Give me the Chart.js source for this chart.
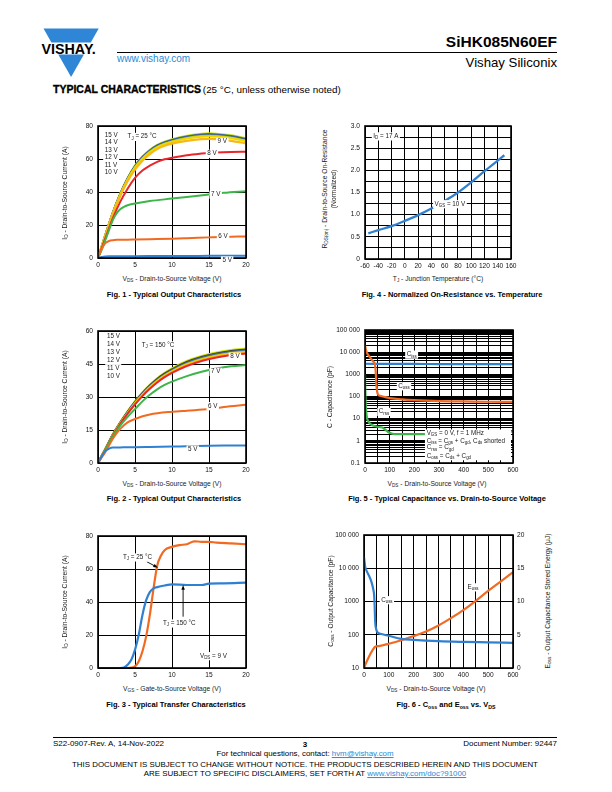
<!DOCTYPE html>
<html>
<head>
<meta charset="utf-8">
<script src="https://cdn.jsdelivr.net/npm/chart.js@4.4.1/dist/chart.umd.min.js"></script>
<style>
  html, body { margin: 0; padding: 0; background: #fff; }
  #page { position: relative; width: 612px; height: 792px; overflow: hidden;
    font-family: "Liberation Sans", Arial, Helvetica, sans-serif; color: #000; }
  .t { position: absolute; white-space: nowrap; line-height: 1; }
  .s { font-size: 70%; position: relative; top: 0.3em; }
  .a { color: #2a8ad6; text-decoration: underline; }
  canvas { position: absolute; }
  .rule { position: absolute; height: 1px; background: #000; }
</style>
</head>
<body>
<div id="page">
  <svg width="612" height="100" style="position:absolute;left:0;top:0">
    <polygon points="43.5,28.6 98.7,28.6 90.8,42.4 51.4,42.4" fill="#2f86d6"/>
    <polygon points="58.3,54.6 83.9,54.6 71.1,77" fill="#2f86d6"/>
    <text x="41.5" y="53.8" font-family="Liberation Sans, Arial, sans-serif" font-weight="bold" font-size="14.3" fill="#000">VISHAY.</text>
  </svg>
  <div class="rule" style="left:117px;top:52px;width:440px"></div>
  <div class="rule" style="left:53px;top:737px;width:504px"></div>
</div>
<script>
// ---- Fig. 1: output characteristics, TJ = 25 °C
const F1_VDS = [0, 1, 2, 3, 4, 5, 6, 7, 8, 9, 10, 12, 14, 15, 16, 18, 20];
const F1_15V = [0, 14, 27.5, 39, 48.5, 56, 61.5, 65.5, 68.5, 70.5, 72, 74, 75.3, 75.5, 75.3, 74.3, 72.5];
const F1_14V = [0, 14, 27.4, 38.8, 48.2, 55.7, 61.2, 65.2, 68.2, 70.2, 71.6, 73.6, 74.9, 75.1, 74.9, 73.9, 72.1];
const F1_13V = [0, 13.9, 27.3, 38.6, 48, 55.4, 60.9, 64.9, 67.9, 69.9, 71.3, 73.3, 74.5, 74.7, 74.5, 73.5, 71.7];
const F1_12V = [0, 13.9, 27.2, 38.5, 47.8, 55.2, 60.6, 64.6, 67.6, 69.6, 71, 73, 74.2, 74.4, 74.2, 73.2, 71.4];
const F1_11V = [0, 13.8, 27.1, 38.3, 47.6, 54.9, 60.3, 64.3, 67.3, 69.3, 70.7, 72.7, 73.9, 74.1, 73.9, 72.9, 71.1];
const F1_10V = [0, 13.8, 27, 38.2, 47.4, 54.7, 60, 64, 67, 69, 70.4, 72.4, 73.6, 73.8, 73.6, 72.6, 70.8];
const F1_9V = [0, 13.5, 26.5, 37.5, 46.5, 53.5, 59, 63, 66, 68, 69.3, 71, 72, 72.2, 72, 71, 69.5];
const F1_8V = [0, 12, 24, 34, 42, 48.5, 53, 56, 58.3, 59.8, 60.8, 62.3, 63.3, 63.7, 64, 64.3, 64.4];
const F1_VDS_LO = [0, 0.5, 1, 1.5, 2, 2.5, 3, 3.5, 4, 5, 7, 10, 12, 15, 17, 20];
const F1_7V = [0, 5, 11, 17, 23, 27, 29.5, 31, 32, 33, 34.5, 36, 37, 38.5, 39.5, 40.5];
const F1_6V = [0, 5.5, 9, 10.3, 10.8, 11, 11, 11.1, 11.1, 11.2, 11.4, 11.7, 12, 12.5, 12.8, 13.1];
const F1_5V = [0, 0.6, 0.9, 1, 1, 1, 1, 1.05, 1.05, 1.1, 1.15, 1.2, 1.25, 1.3, 1.35, 1.4];

// ---- Fig. 2: output characteristics, TJ = 150 °C
const F2_VDS = [0, 1, 2, 3, 4, 5, 6, 7, 8, 9, 10, 12, 14, 16, 18, 20];
const F2_15V = [0, 6.5, 13, 18.5, 23.5, 28, 32, 35.5, 38.5, 41, 43, 46.3, 48.6, 50.2, 51.3, 52];
const F2_14V = [0, 6.4, 12.9, 18.4, 23.3, 27.8, 31.7, 35.2, 38.2, 40.6, 42.6, 45.9, 48.2, 49.8, 50.9, 51.6];
const F2_13V = [0, 6.4, 12.8, 18.2, 23.1, 27.6, 31.5, 35, 37.9, 40.3, 42.3, 45.6, 47.9, 49.5, 50.6, 51.3];
const F2_12V = [0, 6.3, 12.7, 18.1, 23, 27.4, 31.3, 34.7, 37.6, 40, 42, 45.3, 47.6, 49.2, 50.3, 51];
const F2_11V = [0, 6.3, 12.6, 18, 22.8, 27.2, 31.1, 34.5, 37.4, 39.8, 41.8, 45, 47.3, 48.9, 50, 50.7];
const F2_10V = [0, 6.3, 12.5, 17.9, 22.7, 27.1, 30.9, 34.3, 37.2, 39.6, 41.6, 44.8, 47.1, 48.7, 49.8, 50.4];
const F2_9V = [0, 6.2, 12.5, 17.8, 22.5, 26.8, 30.6, 34, 36.9, 39.3, 41.3, 44.5, 46.8, 48.4, 49.5, 50.2];
const F2_8V = [0, 6.2, 12.4, 17.7, 22.4, 26.6, 30.4, 33.7, 36.6, 39, 41, 44.1, 46.4, 48, 49.1, 49.8];
const F2_7V = [0, 6, 12, 17, 21, 24.5, 28, 31, 33.5, 35.5, 37, 39.5, 41.5, 43, 44, 44.5];
const F2_VDS_LO = [0, 0.5, 1, 1.5, 2, 3, 4, 5, 7, 10, 12, 15, 17, 20];
const F2_6V = [0, 2.5, 5, 8, 11, 15.5, 18.5, 20, 22, 23.3, 23.8, 24.5, 25.5, 26.5];
const F2_5V = [0, 3, 5.5, 6.5, 7, 7.1, 7.2, 7.2, 7.3, 7.5, 7.6, 7.8, 7.9, 8];

// ---- Fig. 3: transfer characteristics
const F3_VGS_25 = [0, 3, 4, 4.5, 5, 5.5, 6, 6.5, 7, 7.5, 8, 8.5, 9, 10, 11, 12, 13, 14, 15, 16, 18, 20];
const F3_ID_25 = [0, 0, 0, 0.2, 1, 4, 10, 19, 32, 48, 62, 68, 71.4, 73.4, 74.5, 75, 76.8, 76.5, 76.5, 76, 75.5, 75];
const F3_VGS_150 = [0, 3, 3.5, 4, 4.5, 5, 5.5, 6, 6.5, 7, 7.5, 8, 9, 10, 12, 14, 15, 17, 20];
const F3_ID_150 = [0, 0, 0.3, 2, 5, 11, 20, 32, 41, 46, 48.3, 49, 50, 50.7, 50.3, 50.3, 51.1, 51.3, 51.7];

// ---- Fig. 4: normalized on-resistance
const F4_TJ = [-55, -40, -20, 0, 20, 40, 60, 80, 100, 120, 140, 150];
const F4_RDS = [0.58, 0.65, 0.74, 0.86, 0.99, 1.14, 1.31, 1.50, 1.73, 1.98, 2.22, 2.34];

// ---- Fig. 5: capacitances
const F5_V_ISS = [0, 100, 200, 300, 400, 500, 600];
const F5_CISS = [3000, 2950, 2950, 2900, 2900, 2900, 2900];
const F5_V_OSS = [0, 3, 7, 15, 25, 34, 40, 43, 46, 49, 54, 65, 80, 100, 150, 200, 300, 400, 500, 600];
const F5_COSS = [21000, 14000, 9800, 7000, 5000, 3700, 3000, 1500, 400, 170, 118, 105, 95, 85, 74, 68, 62, 60, 58, 57];
const F5_V_RSS = [0, 1, 2, 3, 5, 8, 12, 20, 30, 50, 70, 85, 100, 120, 200, 300, 400, 500, 590, 600];
const F5_CRSS = [1000, 300, 100, 45, 20, 11, 8, 6, 5, 4.3, 4, 3, 2.3, 2, 2, 2, 2.1, 2.2, 2.6, 2.7];

// ---- Fig. 6: Coss and Eoss
const F6_V_OSS = [0, 2, 5, 10, 20, 30, 38, 41, 43, 45, 48, 54, 70, 100, 150, 200, 300, 400, 500, 600];
const F6_COSS = [22000, 16000, 11000, 8500, 6000, 3900, 2200, 1500, 700, 250, 160, 120, 105, 93, 75, 70, 64, 61, 59, 57];
const F6_V_E = [0, 10, 20, 30, 40, 45, 60, 100, 150, 200, 250, 300, 350, 400, 450, 500, 550, 600];
const F6_EOSS = [0, 0.9, 1.7, 2.4, 3.0, 3.2, 3.3, 3.65, 4.17, 4.8, 5.5, 6.4, 7.5, 8.7, 10.1, 11.6, 13, 14.4];

// log axis decades and their labels
const F5_DECADES = [0.1, 1, 10, 100, 1000, 10000, 100000];
const F5_DEC_LBL = ['0.1', '1', '10', '100', '1000', '10 000', '100 000'];
const F6_DECADES = [10, 100, 1000, 10000, 100000];
const F6_DEC_LBL = ['10', '100', '1000', '10 000', '100 000'];

const FONT = '"Liberation Sans", Arial, Helvetica, sans-serif';
const C = { blue: '#3080d2', orange: '#f26a21', green: '#3db54a', red: '#e8262d', amber: '#f7b916',
  yellow: '#f2d600', lime: '#cfe000', olive: '#9bc53d', gray: '#5a5a5a', dark: '#3a3a3a', mid: '#2f6fc0' };

Chart.defaults.font.family = FONT;
Chart.defaults.font.size = 6.6;
Chart.defaults.color = '#111';
Chart.defaults.animation = false;

const page = document.getElementById('page');

// "V{DS}" style markup -> parts, {..} is a subscript
function parts(s) {
  return s.split(/(\{[^}]*\})/).filter(Boolean).map(function (p) {
    return p[0] === '{' ? { t: p.slice(1, -1), sub: true } : { t: p, sub: false };
  });
}
function html(s) {
  return parts(s).map(function (p) {
    const e = p.t.replace(/&/g, '&amp;').replace(/</g, '&lt;');
    return p.sub ? '<span class="s">' + e + '</span>' : e;
  }).join('');
}
function txt(x, y, markup, o) {
  o = o || {};
  const d = document.createElement('div');
  d.className = 't';
  d.innerHTML = o.raw ? markup : html(markup);
  d.style.left = x + 'px'; d.style.top = y + 'px';
  d.style.fontSize = (o.size || 6.7) + 'px';
  if (o.bold) d.style.fontWeight = 'bold';
  d.style.color = o.color || '#1a1a1a';
  const tx = o.align === 'r' ? '-100%' : o.align === 'l' ? '0' : '-50%';
  d.style.transform = 'translate(' + tx + ',-50%)' + (o.rot ? ' rotate(-90deg)' : '');
  page.appendChild(d);
  return d;
}

// canvas text with subscripts, optional white background
function drawRich(ctx, s, x, y, size, align, bg) {
  const ps = parts(s);
  let w = 0;
  ps.forEach(function (p) { ctx.font = (p.sub ? size * 0.7 : size) + 'px ' + FONT; p.w = ctx.measureText(p.t).width; w += p.w; });
  let x0 = align === 'center' ? x - w / 2 : align === 'right' ? x - w : x;
  if (bg) { ctx.fillStyle = '#fff'; ctx.fillRect(x0 - 1.5, y - size * 0.62, w + 3, size * 1.3); }
  ctx.fillStyle = '#1a1a1a'; ctx.textBaseline = 'middle'; ctx.textAlign = 'left';
  ps.forEach(function (p) {
    ctx.font = (p.sub ? size * 0.7 : size) + 'px ' + FONT;
    ctx.fillText(p.t, x0, p.sub ? y + size * 0.3 : y);
    x0 += p.w;
  });
}

// frame, in-plot labels, arrows and white boxes
const MARKS = {};
Chart.register({
  id: 'marks',
  afterDatasetsDraw(chart) {
    const m = MARKS[chart.canvas.id] || {};
    const ctx = chart.ctx, a = chart.chartArea, sx = chart.scales.x;
    ctx.save();
    (m.boxes || []).forEach(function (b) {
      const ys = chart.scales[b.axis || 'y'];
      const x0 = sx.getPixelForValue(b.x0), x1 = sx.getPixelForValue(b.x1);
      const y0 = ys.getPixelForValue(b.y0), y1 = ys.getPixelForValue(b.y1);
      ctx.fillStyle = '#fff';
      ctx.fillRect(Math.min(x0, x1), Math.min(y0, y1), Math.abs(x1 - x0), Math.abs(y1 - y0));
    });
    ctx.lineWidth = 1.6; ctx.strokeStyle = '#000';
    ctx.strokeRect(a.left, a.top, a.width, a.height);
    (m.arrows || []).forEach(function (r) {
      const ys = chart.scales.y;
      const x0 = sx.getPixelForValue(r.x0), y0 = ys.getPixelForValue(r.y0);
      const x1 = sx.getPixelForValue(r.x1), y1 = ys.getPixelForValue(r.y1);
      const ang = Math.atan2(y1 - y0, x1 - x0);
      ctx.strokeStyle = '#000'; ctx.fillStyle = '#000'; ctx.lineWidth = 0.9;
      ctx.beginPath(); ctx.moveTo(x0, y0); ctx.lineTo(x1 - 3 * Math.cos(ang), y1 - 3 * Math.sin(ang)); ctx.stroke();
      ctx.beginPath(); ctx.moveTo(x1, y1);
      ctx.lineTo(x1 - 5 * Math.cos(ang - 0.35), y1 - 5 * Math.sin(ang - 0.35));
      ctx.lineTo(x1 - 5 * Math.cos(ang + 0.35), y1 - 5 * Math.sin(ang + 0.35));
      ctx.closePath(); ctx.fill();
    });
    (m.labels || []).forEach(function (l) {
      const ys = chart.scales[l.axis || 'y'];
      drawRich(ctx, l.t, sx.getPixelForValue(l.x), ys.getPixelForValue(l.y), l.size || 6.3, l.align || 'center', l.bg !== false);
    });
    ctx.restore();
  }
});

function line(xs, ys, color, w, axis) {
  return { data: xs.map(function (x, i) { return { x: x, y: ys[i] }; }), borderColor: color, borderWidth: w || 2,
    pointRadius: 0, fill: false, cubicInterpolationMode: 'monotone', yAxisID: axis || 'y' };
}

function linAxis(min, max, step, fmt, pos) {
  return { type: 'linear', min: min, max: max, position: pos, border: { display: false },
    grid: { color: '#000', lineWidth: 1, drawTicks: false },
    ticks: { stepSize: step, padding: pos === 'bottom' ? 3.5 : 5, autoSkip: false, maxRotation: 0, callback: fmt || function (v) { return v; } } };
}

function logAxis(decades, labels, minor) {
  return { type: 'logarithmic', min: decades[0], max: decades[decades.length - 1], position: 'left', border: { display: false },
    grid: { color: '#000', lineWidth: 1, drawTicks: false },
    ticks: { padding: 5, autoSkip: false, callback: function (v) { const i = decades.indexOf(v); return i >= 0 ? labels[i] : ''; } },
    afterBuildTicks: function (s) {
      const t = [];
      decades.forEach(function (d, i) {
        t.push({ value: d });
        if (minor && i < decades.length - 1) for (let k = 2; k < 10; k++) t.push({ value: d * k });
      });
      s.ticks = t;
    } };
}

// g: canvas box (L,T,W,H) and plot box (pl,pt,pr,pb) in page pixels
function makeChart(id, g, datasets, scales, marks) {
  const cv = document.createElement('canvas');
  cv.id = id; cv.width = g.W; cv.height = g.H;
  cv.style.left = g.L + 'px'; cv.style.top = g.T + 'px';
  cv.style.width = g.W + 'px'; cv.style.height = g.H + 'px';
  page.appendChild(cv);
  MARKS[id] = marks || {};
  scales.x.afterFit = function (s) { s.height = g.T + g.H - g.pb; };
  scales.y.afterFit = function (s) { s.width = g.pl - g.L; };
  if (scales.y2) scales.y2.afterFit = function (s) { s.width = g.L + g.W - g.pr; };
  return new Chart(cv.getContext('2d'), {
    type: 'line',
    data: { datasets: datasets },
    options: { responsive: false, animation: false, events: [],
      layout: { padding: { top: g.pt - g.T, right: scales.y2 ? 0 : g.L + g.W - g.pr, left: 0, bottom: 0 } },
      plugins: { legend: { display: false }, tooltip: { enabled: false } },
      scales: scales }
  });
}

const every100 = function (v) { return Math.round(v) % 100 === 0 ? Math.round(v) : ''; };

// Fig. 1
makeChart('f1', { L: 66, T: 116, W: 190, H: 156, pl: 98, pt: 126, pr: 246, pb: 258 }, [
  line(F1_VDS_LO, F1_5V, C.blue), line(F1_VDS_LO, F1_6V, C.orange), line(F1_VDS_LO, F1_7V, C.green),
  line(F1_VDS, F1_8V, C.red), line(F1_VDS, F1_9V, C.amber, 2.2),
  line(F1_VDS, F1_10V, C.yellow, 2.2), line(F1_VDS, F1_11V, C.olive), line(F1_VDS, F1_12V, C.mid),
  line(F1_VDS, F1_13V, C.gray), line(F1_VDS, F1_14V, C.mid), line(F1_VDS, F1_15V, C.lime, 2.2)
], { x: linAxis(0, 20, 5, null, 'bottom'), y: linAxis(0, 80, 20, null, 'left') }, {
  labels: [
    { x: 0.9, y: 74.5, t: '15 V', align: 'left' }, { x: 0.9, y: 70, t: '14 V', align: 'left' },
    { x: 0.9, y: 65.5, t: '13 V', align: 'left' }, { x: 0.9, y: 61, t: '12 V', align: 'left' },
    { x: 0.9, y: 56.5, t: '11 V', align: 'left' }, { x: 0.9, y: 52, t: '10 V', align: 'left' },
    { x: 4.0, y: 73.5, t: 'T{J} = 25 °C', align: 'left' },
    { x: 16.8, y: 70.5, t: '9 V' }, { x: 15.4, y: 63.3, t: '8 V' }, { x: 15.9, y: 38.5, t: '7 V' },
    { x: 16.9, y: 13.2, t: '6 V' }, { x: 17.45, y: -1.4, t: '5 V' }
  ]
});

// Fig. 2
makeChart('f2', { L: 66, T: 321, W: 190, H: 156, pl: 98, pt: 331, pr: 246, pb: 463 }, [
  line(F2_VDS_LO, F2_5V, C.blue), line(F2_VDS_LO, F2_6V, C.orange), line(F2_VDS, F2_7V, C.green),
  line(F2_VDS, F2_8V, C.red), line(F2_VDS, F2_9V, C.amber),
  line(F2_VDS, F2_10V, C.yellow), line(F2_VDS, F2_11V, C.olive), line(F2_VDS, F2_12V, C.mid),
  line(F2_VDS, F2_13V, C.gray), line(F2_VDS, F2_14V, C.dark), line(F2_VDS, F2_15V, C.lime, 2.2)
], { x: linAxis(0, 20, 5, null, 'bottom'), y: linAxis(0, 60, 15, null, 'left') }, {
  labels: [
    { x: 1.2, y: 57.4, t: '15 V', align: 'left' }, { x: 1.2, y: 54, t: '14 V', align: 'left' },
    { x: 1.2, y: 50.2, t: '13 V', align: 'left' }, { x: 1.2, y: 46.6, t: '12 V', align: 'left' },
    { x: 1.2, y: 43.1, t: '11 V', align: 'left' }, { x: 1.2, y: 39.6, t: '10 V', align: 'left' },
    { x: 5.9, y: 53.6, t: 'T{J} = 150 °C', align: 'left' },
    { x: 18.5, y: 48.4, t: '8 V' }, { x: 15.9, y: 41.5, t: '7 V' },
    { x: 15.5, y: 25.9, t: '6 V' }, { x: 12.8, y: 6.2, t: '5 V' }
  ]
});

// Fig. 3
makeChart('f3', { L: 66, T: 526, W: 190, H: 156, pl: 98, pt: 536, pr: 246, pb: 668 }, [
  line(F3_VGS_150, F3_ID_150, C.blue, 2.2), line(F3_VGS_25, F3_ID_25, C.orange, 2.2)
], { x: linAxis(0, 20, 5, null, 'bottom'), y: linAxis(0, 80, 20, null, 'left') }, {
  arrows: [{ x0: 6.6, y0: 64.4, x1: 8.1, y1: 60.8 }, { x0: 11.5, y0: 31.1, x1: 11.5, y1: 50.3 }],
  labels: [
    { x: 5.34, y: 67.1, t: 'T{J} = 25 °C' }, { x: 10.97, y: 27.1, t: 'T{J} = 150 °C' },
    { x: 15.6, y: 7.3, t: 'V{DS} = 9 V' }
  ]
});

// Fig. 4
makeChart('f4', { L: 335, T: 116, W: 186, H: 157, pl: 365, pt: 126, pr: 511, pb: 259 }, [
  line(F4_TJ, F4_RDS, C.blue, 2.3)
], {
  x: linAxis(-60, 160, 20, null, 'bottom'),
  y: linAxis(0, 3, 0.25, function (v) {
    const h = Math.round(v * 4);
    return h % 2 === 0 ? (h === 0 ? '0' : (h / 4).toFixed(1)) : '';
  }, 'left')
}, {
  labels: [{ x: -47.5, y: 2.77, t: 'I{D} = 17 A', align: 'left' }, { x: 68, y: 1.24, t: 'V{GS} = 10 V' }]
});

// Fig. 5
makeChart('f5', { L: 333, T: 320, W: 190, H: 157, pl: 365, pt: 330, pr: 513, pb: 463 }, [
  line(F5_V_RSS, F5_CRSS, C.green, 2.2), line(F5_V_OSS, F5_COSS, C.orange, 2.2), line(F5_V_ISS, F5_CISS, C.blue, 2.2)
], { x: linAxis(0, 600, 50, every100, 'bottom'), y: logAxis(F5_DECADES, F5_DEC_LBL, true) }, {
  boxes: [{ x0: 243, x1: 592, y0: 3.24, y1: 0.133 }],
  labels: [
    { x: 189, y: 7900, t: 'C{iss}' }, { x: 158, y: 295, t: 'C{oss}' }, { x: 77, y: 20.6, t: 'C{rss}' },
    { x: 250, y: 2.19, t: 'V{GS} = 0 V, f = 1 MHz', align: 'left', bg: false },
    { x: 250, y: 1.0, t: 'C{iss} = C{gs} + C{gd}, C{ds} shorted', align: 'left', bg: false },
    { x: 250, y: 0.49, t: 'C{rss} = C{gd}', align: 'left', bg: false },
    { x: 250, y: 0.21, t: 'C{oss} = C{ds} + C{gd}', align: 'left', bg: false }
  ]
});

// Fig. 6
const f6y2 = linAxis(0, 20, 5, null, 'right');
f6y2.grid = { display: false, drawTicks: false };
f6y2.ticks.padding = 4;
makeChart('f6', { L: 332, T: 525, W: 198, H: 157, pl: 364, pt: 535, pr: 513, pb: 668 }, [
  line(F6_V_OSS, F6_COSS, C.blue, 2.2), line(F6_V_E, F6_EOSS, C.orange, 2.2, 'y2')
], { x: linAxis(0, 600, 50, every100, 'bottom'), y: logAxis(F6_DECADES, F6_DEC_LBL, false), y2: f6y2 }, {
  labels: [{ x: 92, y: 1110, t: 'C{oss}' }, { x: 439, y: 2700, t: 'E{oss}' }]
});

// axis titles and captions
const AX = 6.7, CAP = 7.5;
txt(65, 193, 'I{D} - Drain-to-Source Current (A)', { size: AX, rot: true });
txt(172, 279, 'V{DS} - Drain-to-Source Voltage (V)', { size: AX });
txt(174, 295, 'Fig. 1 - Typical Output Characteristics', { size: CAP, bold: true, color: '#000' });
txt(325, 189, 'R{DS(on)} - Drain-to-Source On-Resistance', { size: AX, rot: true });
txt(333.5, 189, '(Normalized)', { size: AX, rot: true });
txt(438, 279, 'T{J} - Junction Temperature (°C)', { size: AX });
txt(452, 295, 'Fig. 4 - Normalized On-Resistance vs. Temperature', { size: CAP, bold: true, color: '#000' });
txt(65, 397, 'I{D} - Drain-to-Source Current (A)', { size: AX, rot: true });
txt(172, 484, 'V{DS} - Drain-to-Source Voltage (V)', { size: AX });
txt(174, 499, 'Fig. 2 - Typical Output Characteristics', { size: CAP, bold: true, color: '#000' });
txt(330, 397, 'C - Capacitance (pF)', { size: AX, rot: true });
txt(437, 484, 'V{DS} - Drain-to-Source Voltage (V)', { size: AX });
txt(447, 499, 'Fig. 5 - Typical Capacitance vs. Drain-to-Source Voltage', { size: CAP, bold: true, color: '#000' });
txt(65, 602, 'I{D} - Drain-to-Source Current (A)', { size: AX, rot: true });
txt(172, 689, 'V{GS} - Gate-to-Source Voltage (V)', { size: AX });
txt(176, 705, 'Fig. 3 - Typical Transfer Characteristics', { size: CAP, bold: true, color: '#000' });
txt(331, 601, 'C{oss} - Output Capacitance (pF)', { size: AX, rot: true });
txt(548, 601, 'E{oss} - Output Capacitance Stored Energy (μJ)', { size: AX, rot: true });
txt(436, 689, 'V{DS} - Drain-to-Source Voltage (V)', { size: AX });
txt(446, 705, 'Fig. 6 - C{oss} and E{oss} vs. V{DS}', { size: CAP, bold: true, color: '#000' });

// header
txt(557, 42, 'SiHK085N60EF', { size: 15.5, bold: true, align: 'r', color: '#000' });
txt(557, 63, 'Vishay Siliconix', { size: 13.2, align: 'r', color: '#000' });
txt(117, 59, 'www.vishay.com', { size: 10, align: 'l', color: '#2a8ad6' });
txt(53, 88.5, '<span style="font-size:10.5px;font-weight:bold;-webkit-text-stroke:0.35px #000">TYPICAL CHARACTERISTICS</span>' +
  ' <span style="font-size:9.9px">(25 °C, unless otherwise noted)</span>', { raw: true, align: 'l', color: '#000' });

// footer
txt(53, 744, 'S22-0907-Rev. A, 14-Nov-2022', { size: 8, align: 'l', color: '#000' });
txt(305, 745, '3', { size: 8, bold: true, color: '#000' });
txt(557, 744, 'Document Number: 92447', { size: 8, align: 'r', color: '#000' });
txt(305, 754, 'For technical questions, contact: <span class="a">hvm@vishay.com</span>', { raw: true, size: 7.9, color: '#000' });
txt(305, 765, 'THIS DOCUMENT IS SUBJECT TO CHANGE WITHOUT NOTICE. THE PRODUCTS DESCRIBED HEREIN AND THIS DOCUMENT', { size: 7.9, color: '#000' });
txt(305, 773.5, 'ARE SUBJECT TO SPECIFIC DISCLAIMERS, SET FORTH AT <span class="a">www.vishay.com/doc?91000</span>', { raw: true, size: 7.9, color: '#000' });
</script>
</body>
</html>
